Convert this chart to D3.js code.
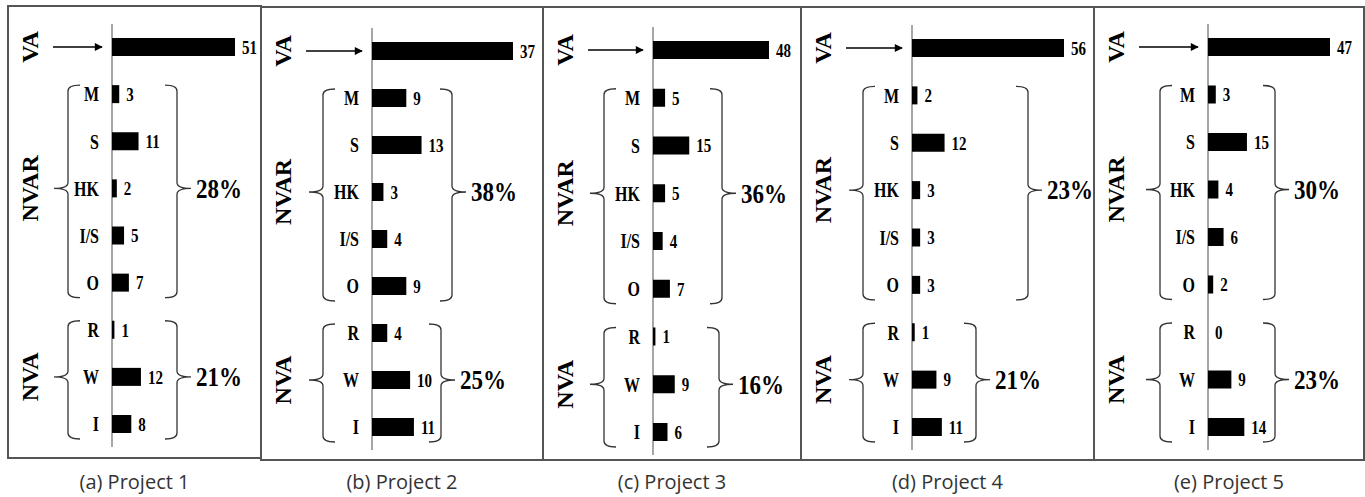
<!DOCTYPE html>
<html>
<head>
<meta charset="utf-8">
<script src="https://cdn.jsdelivr.net/npm/d3@7"></script>
<style>
  body { margin: 0; background: #fff; }
  svg { display: block; }
</style>
</head>
<body>
<svg id="chart"></svg>
<script>
const width = 1365;
const height = 497;

// data
const rows = ["VA", "M", "S", "HK", "I/S", "O", "R", "W", "I"];
const groupNames = ["VA", "NVAR", "NVA"];
const groupRows = [["VA"], ["M", "S", "HK", "I/S", "O"], ["R", "W", "I"]];
const captions = ["(a) Project 1", "(b) Project 2", "(c) Project 3", "(d) Project 4", "(e) Project 5"];
const project1 = [51, 3, 11, 2, 5, 7, 1, 12, 8];
const project2 = [37, 9, 13, 3, 4, 9, 4, 10, 11];
const project3 = [48, 5, 15, 5, 4, 7, 1, 9, 6];
const project4 = [56, 2, 12, 3, 3, 3, 1, 9, 11];
const project5 = [47, 3, 15, 4, 6, 2, 0, 9, 14];
const nvarPct = ["28%", "38%", "36%", "23%", "30%"];
const nvaPct = ["21%", "25%", "16%", "21%", "23%"];
const projects = [project1, project2, project3, project4, project5];

// layout, one entry per panel
const edges = [8, 261, 543, 801, 1094, 1364];
const boxTop = [6, 7, 7, 7, 7];
const boxBottom = [458, 460, 460, 460, 460];
const axisOff = [104, 111, 110, 111, 114];
const barSpan = [123, 141, 116, 152, 122];
const rowTop = [47, 51, 50, 48, 47];
const rowBottom = [424, 427, 432, 427, 427];
const leftBrace = [60, 62, 61, 62, 66];
const rightBrace = [[169, 169], [191, 180], [179, 176], [227, 175], [181, 181]];

const serif = "'Liberation Serif', 'Times New Roman', 'DejaVu Serif', serif";

const svg = d3.select("#chart")
  .attr("width", width)
  .attr("height", height);

svg.append("defs").append("marker")
  .attr("id", "arrow")
  .attr("viewBox", "0 0 10 10")
  .attr("refX", 9).attr("refY", 5)
  .attr("markerWidth", 11).attr("markerHeight", 8)
  .attr("markerUnits", "userSpaceOnUse")
  .attr("orient", "auto")
  .append("path")
  .attr("d", "M0,0 L10,5 L0,10 Z")
  .attr("fill", "#000");

// curly brace, dir = 1 opens to the right (left brace), -1 mirrored
function brace(x, top, bottom, mid, dir) {
  const h = 12 * dir, t = 14 * dir, r = 6;
  return `M${x + h},${top} Q${x},${top} ${x},${top + r} L${x},${mid - r} ` +
    `Q${x},${mid} ${x - t},${mid} M${x - t},${mid} Q${x},${mid} ${x},${mid + r} ` +
    `L${x},${bottom - r} Q${x},${bottom} ${x + h},${bottom}`;
}

// bold serif text
function label(sel, size) {
  return sel
    .style("font-family", serif)
    .style("font-weight", "bold")
    .style("font-size", size + "px")
    .attr("dy", "0.35em");
}

projects.forEach((vals, i) => {
  const left = edges[i];
  const right = edges[i + 1];
  const g = svg.append("g");

  g.append("rect")
    .attr("x", left).attr("y", boxTop[i])
    .attr("width", right - left).attr("height", boxBottom[i] - boxTop[i])
    .attr("fill", "none")
    .attr("stroke", "#555")
    .attr("stroke-width", 2);

  const ax = left + axisOff[i];
  const x = d3.scaleLinear().domain([0, vals[0]]).range([ax, ax + barSpan[i]]);
  const y = d3.scalePoint().domain(rows).range([rowTop[i], rowBottom[i]]);

  g.append("line")
    .attr("x1", ax).attr("x2", ax)
    .attr("y1", y(rows[0]) - 23).attr("y2", y(rows[rows.length - 1]) + 23)
    .attr("stroke", "#888")
    .attr("stroke-width", 1.5);

  g.selectAll("rect.bar")
    .data(vals)
    .join("rect")
    .attr("class", "bar")
    .attr("x", ax)
    .attr("y", (d, j) => y(rows[j]) - 9)
    .attr("width", d => x(d) - ax)
    .attr("height", 18)
    .attr("fill", "#000");

  // the scanned figure's text is a bit taller than it is wide
  g.selectAll("text.val")
    .data(vals)
    .join("text")
    .attr("class", "val")
    .attr("transform", (d, j) => `translate(${x(d) + 7},${y(rows[j])}) scale(1,1.3)`)
    .call(label, 15)
    .text(d => d);

  g.selectAll("text.cat")
    .data(rows.slice(1))
    .join("text")
    .attr("class", "cat")
    .attr("transform", d => `translate(${ax - 13},${y(d)}) scale(1,1.3)`)
    .attr("text-anchor", "end")
    .call(label, 16)
    .text(d => d);

  // group labels, rotated
  groupNames.forEach((name, k) => {
    const members = groupRows[k];
    const midY = y(members[Math.floor(members.length / 2)]);
    g.append("text")
      .attr("transform", `translate(${left + 22},${midY}) rotate(-90)`)
      .attr("text-anchor", "middle")
      .call(label, 24)
      .text(name);

    if (k === 0) {
      g.append("line")
        .attr("x1", left + 45).attr("x2", ax - 10)
        .attr("y1", midY).attr("y2", midY)
        .attr("stroke", "#000")
        .attr("stroke-width", 1.5)
        .attr("marker-end", "url(#arrow)");
      return;
    }

    const top = y(members[0]) - 9;
    const bottom = y(members[members.length - 1]) + 15;
    g.append("path")
      .attr("d", brace(left + leftBrace[i], top, bottom, midY, 1))
      .attr("fill", "none")
      .attr("stroke", "#333")
      .attr("stroke-width", 1.3);

    const rb = left + rightBrace[i][k - 1];
    g.append("path")
      .attr("d", brace(rb, top, bottom, midY, -1))
      .attr("fill", "none")
      .attr("stroke", "#333")
      .attr("stroke-width", 1.3);

    g.append("text")
      .attr("transform", `translate(${rb + 19},${midY}) scale(1,1.15)`)
      .call(label, 23)
      .text(k === 1 ? nvarPct[i] : nvaPct[i]);
  });

  g.append("text")
    .attr("x", (left + right) / 2)
    .attr("y", 482)
    .attr("dy", "0.35em")
    .attr("text-anchor", "middle")
    .style("font-family", "'Open Sans', Lato, sans-serif")
    .style("font-size", "20px")
    .style("fill", "#333")
    .text(captions[i]);
});
</script>
</body>
</html>
